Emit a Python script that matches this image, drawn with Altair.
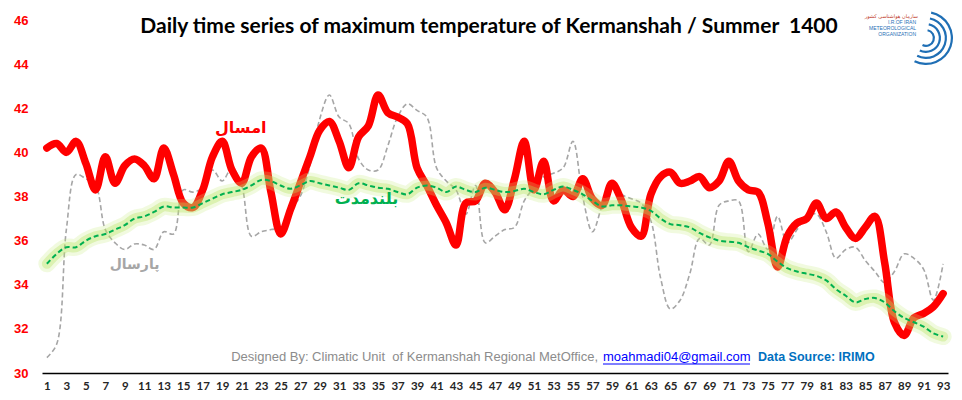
import altair as alt
import pandas as pd

days = list(range(1, 94))

this_year = [40.2, 40.4, 40.0, 40.5, 39.5, 38.3, 39.8, 38.6, 39.4, 39.7,
             39.4, 38.8, 40.2, 39.0, 37.7, 37.5, 38.3, 39.8, 40.5, 39.2,
             38.6, 39.8, 40.2, 38.2, 36.3, 37.4, 38.6, 39.8, 41.0, 41.4,
             40.5, 39.3, 40.7, 41.2, 42.6, 41.8, 41.6, 41.3, 39.3, 38.5,
             37.6, 36.8, 35.8, 37.7, 37.8, 38.6, 38.2, 37.4, 38.8, 40.5,
             38.3, 39.6, 37.8, 38.3, 38.0, 38.8, 37.9, 37.6, 38.6, 37.8,
             36.6, 36.2, 38.1, 38.9, 39.1, 38.6, 38.7, 38.9, 38.4, 38.7,
             39.6, 38.7, 38.3, 38.2, 36.8, 34.8, 36.2, 36.8, 37.0, 37.7,
             37.0, 37.3, 36.6, 36.1, 36.6, 37.1, 35.0, 32.3, 31.7, 32.5,
             32.7, 33.0, 33.6]

long_term = [34.95, 35.4, 35.7, 35.7, 36.0, 36.2, 36.3, 36.5, 36.7, 37.0,
             37.1, 37.3, 37.55, 37.5, 37.5, 37.5, 37.7, 37.9, 38.1, 38.2,
             38.3, 38.5, 38.75, 38.7, 38.5, 38.35, 38.5, 38.7, 38.6, 38.5,
             38.4, 38.3, 38.6, 38.5, 38.4, 38.35, 38.2, 38.1, 38.4, 38.5,
             38.4, 38.2, 38.45, 38.3, 38.2, 38.4, 38.3, 38.2, 38.25, 38.35,
             38.2, 38.1, 38.3, 38.45, 38.3, 38.1, 37.8, 37.55, 37.6, 37.6,
             37.55, 37.5, 37.35, 37.0, 36.75, 36.7, 36.6, 36.35, 36.15, 36.0,
             35.95, 35.9, 35.7, 35.55, 35.4, 35.05, 34.75, 34.6, 34.5, 34.4,
             34.2, 33.8, 33.5, 33.2, 33.35, 33.4, 33.2, 32.8, 32.5, 32.3,
             32.1, 31.8, 31.65]

last_year = [30.7, 31.3, 36.5, 39.0, 38.8, 38.5, 36.5, 35.9, 35.6, 35.85,
             35.8, 35.6, 36.4, 36.3, 38.3, 38.2, 38.4, 39.2, 38.7, 39.3,
             38.5, 36.2, 36.4, 36.5, 36.6, 37.4, 38.0, 39.4, 41.5, 42.6,
             41.6, 41.3, 39.7, 39.2, 39.2, 40.3, 41.6, 42.2, 41.9, 41.6,
             39.3, 38.7, 38.3, 37.2, 38.5, 35.9, 36.2, 36.5, 36.6, 37.8,
             38.4, 38.9, 39.05, 39.3, 40.5, 38.0, 36.4, 37.6, 38.7, 38.1,
             37.9, 37.7, 36.9, 34.3, 32.9, 33.3, 34.5, 36.1, 35.8, 37.6,
             37.8, 37.8, 35.5, 36.3, 35.6, 37.1, 35.9, 36.5, 37.1, 37.2,
             36.4, 35.2, 35.6, 35.7, 35.1, 34.6, 34.1, 34.6, 35.4, 35.2,
             34.7, 33.3, 34.95]

y_ticks = [30, 32, 34, 36, 38, 40, 42, 44, 46]
x_ticks = list(range(1, 94, 2))

NB = "\u00a0"
title_text = "Daily time series of maximum temperature of Kermanshah / Summer" + NB + NB + "1400"
series_labels = ["امسال", "بلندمدت", "پارسال"]
label_days = [20.9, 33.8, 10.0]
label_temps = [41.1, 37.9, 34.9]
footer_gray = "Designed By: Climatic Unit" + NB + NB + "of Kermanshah Regional MetOffice,"
footer_mail = "moahmadi04@gmail.com"
footer_src = "Data Source: IRIMO"

df_this = pd.DataFrame({"day": days, "value": this_year})
df_long = pd.DataFrame({"day": days, "value": long_term})
df_last = pd.DataFrame({"day": days, "value": last_year})

W, H = 906, 353

x_enc = alt.X("day:Q",
              scale=alt.Scale(domain=[0.5, 93.5], nice=False, zero=False),
              axis=alt.Axis(values=x_ticks, title=None, grid=False, ticks=False,
                            domain=True, domainColor="#000000", domainWidth=1.5,
                            labelFont="Lato", labelFontWeight="bold", labelFontSize=11.5,
                            labelColor="#262626", labelPadding=7, labelFlush=False,
                            labelOverlap=False, labelSeparation=0))
y_enc = alt.Y("value:Q",
              scale=alt.Scale(domain=[30, 46], nice=False, zero=False),
              axis=alt.Axis(values=y_ticks, title=None, grid=False, ticks=False,
                            domain=False, labelFont="Liberation Sans",
                            labelFontWeight="bold", labelFontSize=13,
                            labelColor="#FF0000", labelPadding=14))

last_line = alt.Chart(df_last).mark_line(
    color="#A6A6A6", strokeWidth=1.6, strokeDash=[5, 3], interpolate="catmull-rom"
).encode(x=x_enc, y=y_enc)

this_line = alt.Chart(df_this).mark_line(
    color="#FF0000", strokeWidth=7.5, interpolate="catmull-rom",
    strokeCap="round", strokeJoin="round"
).encode(x=x_enc, y=y_enc)

glow_outer = alt.Chart(df_long).mark_line(
    color="#C6EA7E", strokeWidth=17, opacity=0.25, interpolate="catmull-rom",
    strokeCap="round"
).encode(x=x_enc, y=y_enc)

glow_inner = alt.Chart(df_long).mark_line(
    color="#B4E25C", strokeWidth=10, opacity=0.35, interpolate="catmull-rom",
    strokeCap="round"
).encode(x=x_enc, y=y_enc)

long_line = alt.Chart(df_long).mark_line(
    color="#00B050", strokeWidth=2, strokeDash=[5, 3], interpolate="catmull-rom"
).encode(x=x_enc, y=y_enc)

lbl_colors = ["#FF0000", "#00B050", "#A6A6A6"]
lbl_sizes = [16, 16, 14]
label_layers = []
for i in range(3):
    dfl = pd.DataFrame({"day": [label_days[i]], "value": [label_temps[i]],
                        "txt": [series_labels[i]]})
    label_layers.append(
        alt.Chart(dfl).mark_text(
            color=lbl_colors[i], font="DejaVu Sans", fontWeight="bold",
            fontSize=lbl_sizes[i], align="center", baseline="middle"
        ).encode(x=x_enc, y=y_enc, text="txt:N")
    )

title = alt.Chart().mark_text(
    text=title_text, color="#000000", font="Lato", fontWeight="bold",
    fontSize=21, align="center", baseline="middle"
).encode(x=alt.value(447), y=alt.value(7))

foot1 = alt.Chart().mark_text(
    text=footer_gray, color="#8C8C8C", font="Liberation Sans",
    fontSize=13, align="right", baseline="middle"
).encode(x=alt.value(556), y=alt.value(337))

foot2 = alt.Chart().mark_text(
    text=footer_mail, color="#0000FF", font="Liberation Sans",
    fontSize=13, align="left", baseline="middle"
).encode(x=alt.value(561), y=alt.value(337))

foot2_ul = alt.Chart().mark_rule(color="#0000FF", strokeWidth=1).encode(
    x=alt.value(561), x2=alt.value(708), y=alt.value(344))

foot3 = alt.Chart().mark_text(
    text=footer_src, color="#0070C0", font="Liberation Sans", fontWeight="bold",
    fontSize=12.5, align="left", baseline="middle"
).encode(x=alt.value(716), y=alt.value(337))

# small logo approximation (top-right)
logo_arcs = [
    alt.Chart().mark_arc(radius=r, radius2=r - 2.2, theta=0.2, theta2=3.6,
                         color="#1F6FB5").encode(x=alt.value(884), y=alt.value(18))
    for r in (27, 21, 15, 9)
]
logo_txt1 = alt.Chart().mark_text(
    text="سازمان هواشناسی کشور", color="#C0392B", font="DejaVu Sans",
    fontSize=5, align="right", baseline="middle").encode(x=alt.value(876), y=alt.value(-4))
logo_txt2 = alt.Chart().mark_text(
    text="I.R.OF IRAN", color="#1F6FB5", font="Liberation Sans",
    fontSize=5, align="right", baseline="middle").encode(x=alt.value(874), y=alt.value(2))
logo_txt3 = alt.Chart().mark_text(
    text="METEOROLOGICAL", color="#1F6FB5", font="Liberation Sans",
    fontSize=5, align="right", baseline="middle").encode(x=alt.value(874), y=alt.value(8))
logo_txt4 = alt.Chart().mark_text(
    text="ORGANIZATION", color="#1F6FB5", font="Liberation Sans",
    fontSize=5, align="right", baseline="middle").encode(x=alt.value(874), y=alt.value(14))

chart = alt.layer(
    last_line, this_line, glow_outer, glow_inner, long_line,
    *label_layers, title, foot1, foot2, foot2_ul, foot3,
    *logo_arcs, logo_txt1, logo_txt2, logo_txt3, logo_txt4
).properties(
    width=W, height=H,
    padding={"left": 34, "top": 12, "right": 6, "bottom": 19},
    autosize=alt.AutoSizeParams(type="none"),
    background="#FFFFFF"
).configure_view(strokeWidth=0).configure_axisX(labelOverlap=False)

chart.save("out.html", embed_options={"renderer": "svg", "actions": False})
